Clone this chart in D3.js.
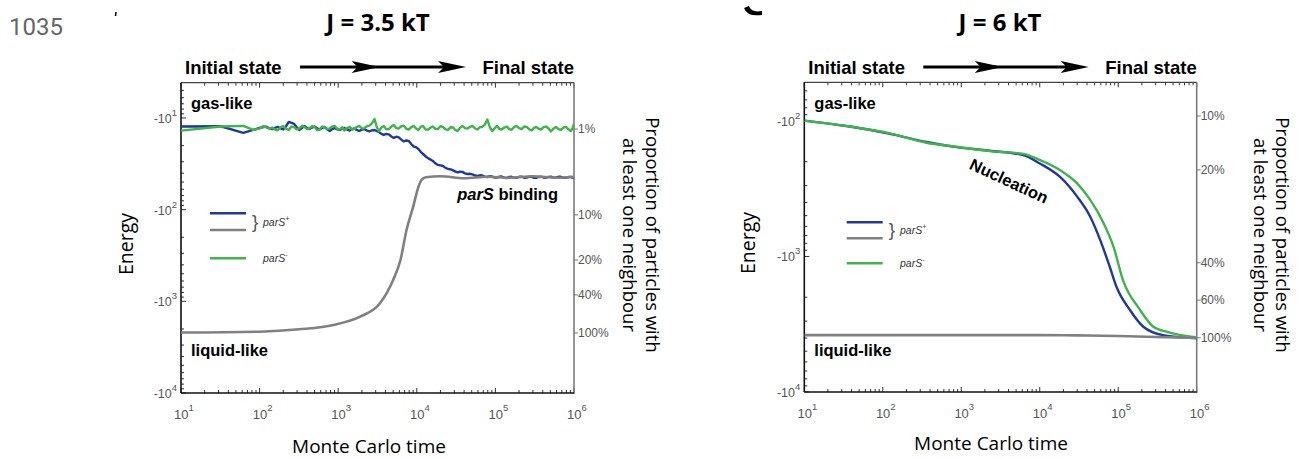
<!DOCTYPE html>
<html><head><meta charset="utf-8">
<script src="https://cdn.jsdelivr.net/npm/d3@7"></script>
<style>body{margin:0;background:#fff;overflow:hidden}</style>
</head><body><svg id="c" width="1301" height="458"></svg>
<script>
// ---------- DATA ----------
const xTicks = [10, 100, 1000, 10000, 100000, 1000000];
const xTickExp = ["1", "2", "3", "4", "5", "6"];

// Left panel (J = 3.5 kT)
const tL = [10,32,62,83,100,110,120,132,145,157,
  170,185,200,217,235,255,275,297,320,345,
  370,400,430,465,500,540,580,625,670,725,
  780,840,900,975,1050,1130,1200,1300,1400,1500,
  1600,1720,1850,2000,2150,2320,2500,2700,2900,3100,
  3300,3550,3800,4100,4400,4750,5100,5500,5900,6350,
  6800,7350,7900,8500,9100,9800,10500,11200,12000,13000,
  14000,15000,16000,17200,18500,20000,21500,23200,25000,27000,
  29000,31000,33000,35500,38000,41000,44000,47500,51000,55000,
  59000,63500,68000,73500,79000,85000,91000,98000,105000,112000,
  120000,130000,140000,150000,160000,172000,185000,200000,215000,232000,
  250000,270000,290000,310000,330000,355000,380000,410000,440000,475000,
  510000,550000,590000,635000,680000,735000,790000,850000,910000,960000,
  1000000];
const greenL = [-13.75,-12.4,-12.2,-13.5,-13.0,-12.3,-12.6,-13.1,-12.7,-13.4,
  -13.6,-12.6,-12.3,-13.1,-13.5,-12.4,-12.6,-13.3,-13.0,-12.2,
  -12.5,-13.2,-13.0,-12.3,-12.5,-13.6,-13.3,-12.4,-12.6,-13.2,
  -13.0,-12.4,-12.2,-13.1,-13.3,-12.6,-13.7,-12.9,-12.5,-13.4,
  -13.2,-12.5,-12.2,-13.0,-12.9,-12.3,-12.1,-11.4,-10.25,-12.6,
  -13.9,-12.7,-12.2,-13.3,-13.2,-12.4,-11.9,-12.9,-13.0,-12.3,
  -12.1,-13.1,-13.35,-12.6,-12.2,-13.0,-13.5,-12.5,-12.2,-13.4,
  -13.35,-12.7,-12.4,-13.1,-13.2,-12.3,-12.5,-13.3,-13.5,-12.6,
  -12.7,-13.5,-13.9,-12.8,-12.2,-12.9,-13.0,-12.5,-12.2,-13.0,
  -13.35,-12.6,-12.5,-11.8,-10.4,-12.6,-13.9,-12.9,-12.2,-13.1,
  -13.35,-12.7,-12.4,-13.2,-13.5,-12.6,-12.2,-12.9,-13.2,-12.4,
  -12.5,-13.3,-13.7,-12.8,-12.5,-13.1,-13.35,-12.6,-12.4,-13.0,
  -14.0,-13.0,-12.5,-13.2,-13.5,-12.7,-12.5,-13.3,-13.86,-12.9,
  -11.6];
const blueL = [-12.4,-12.3,-14.5,-13.5,-12.85,-12.6,-12.4,-12.9,-13.2,-12.8,
  -12.5,-13.0,-13.35,-12.3,-11.05,-11.3,-11.6,-12.6,-13.5,-12.9,
  -12.2,-12.8,-13.2,-12.7,-12.4,-13.0,-13.35,-12.8,-12.5,-13.3,
  -13.86,-13.2,-12.85,-13.3,-13.5,-13.0,-12.85,-13.4,-13.7,-13.2,
  -13.0,-13.5,-13.86,-13.4,-13.2,-13.7,-14.0,-13.6,-13.5,-13.9,
  -14.2,-14.9,-15.3,-14.9,-15.1,-15.9,-16.5,-16.0,-16.3,-17.2,
  -18.0,-17.6,-17.8,-19.2,-20.4,-20.9,-21.8,-23.4,-24.7,-26.3,
  -27.6,-28.4,-29.4,-31.2,-32.5,-32.9,-33.4,-35.0,-36.0,-36.4,
  -37.3,-38.5,-39.2,-38.6,-38.7,-40.2,-40.8,-40.6,-41.3,-42.4,
  -42.9,-42.2,-42.4,-43.6,-44.0,-43.2,-43.5,-44.6,-44.6,-43.7,
  -43.5,-44.8,-45.1,-43.9,-43.8,-44.7,-44.9,-43.8,-43.6,-44.8,
  -44.7,-43.7,-43.9,-45.0,-45.0,-44.0,-43.7,-44.6,-44.8,-43.9,
  -43.6,-44.7,-44.5,-43.8,-43.8,-44.9,-45.0,-44.1,-44.0,-44.6,
  -44.3];
const tGrayL = [10,100,320,870,1900,3400,5000,6200,7400,9000,10500,11500,13000,20000,40000,80000,150000,300000,600000,1000000];
const pctGrayL = [99,97,91.5,82.4,67.5,48.9,29.7,20,12.6,8.0,4.7,3.9,3.65,3.55,3.75,3.6,3.7,3.55,3.7,3.6];
const yTicksL = [-10, -100, -1000, -10000];
const yTickExpL = ["1", "2", "3", "4"];
const pctTicksL = [1, 10, 20, 40, 100];
const pctTickEnergyL = [-13.2, -114, -354, -851, -2213];

// Right panel (J = 6 kT)
const tGreenR = [10,38,120,360,870,2300,6200,10000,18000,30000,44000,65000,87000,115000,190000,280000,420000,1000000];
const greenR = [-99.5,-110,-123,-145,-155,-167,-175,-194,-230,-289,-383,-567,-847,-1493,-2483,-3300,-3597,-3954];
const tBlueR = [10,38,120,360,870,2300,6200,10000,18000,30000,44000,59000,78000,95000,141000,209000,372000,1000000];
const blueR = [-99.5,-110,-124,-143,-156,-166,-179,-206,-258,-362,-509,-757,-1191,-1673,-2483,-3300,-3805,-4018];
const tGrayR = [10,1000,10000,30000,100000,300000,1000000];
const pctGrayR = [96.4,96.4,96.5,96.8,97.6,99,100];
const yTicksR = [-100, -1000, -10000];
const yTickExpR = ["2", "3", "4"];
const pctTicksR = [10, 20, 40, 60, 100];
const pctTickEnergyR = [-92, -230, -1112, -2099, -3981];

// ---------- STYLE / LAYOUT ----------
const C = {blue:"#1f3a9c", green:"#3db54a", gray:"#808080", tick:"#555"};
const HEL = "'Liberation Sans', Arial, Helvetica, sans-serif";
const MYR = "'Open Sans', 'Noto Sans', sans-serif";

const svg = d3.select("#c");
svg.append("text").attr("x", 9).attr("y", 35).text("1035")
  .attr("font-family", "Roboto, sans-serif").attr("font-size", 24).attr("fill", "#666");

const panels = [
  {l:181, r:574, t:82.7, b:393, yTop:-4.12, title:"J = 3.5 kT", titleX:378,
   yTicks:yTicksL, yExp:yTickExpL, pct:pctTicksL, pctE:pctTickEnergyL,
   series:[{t:tL, e:blueL, c:C.blue},{t:tL, e:greenL, c:C.green}],
   gray:{t:tGrayL, p:pctGrayL}, labelX:369, labelY:453, energyX:133, energyY:244,
   propX:[646, 623], legend:{x:210, y1:213.3, y2:230, y3:258.3, tx:263},
   extra:"parS"},
  {l:804.3, r:1196.7, t:82.3, b:392, yTop:-51.9, title:"J = 6 kT", titleX:1000,
   yTicks:yTicksR, yExp:yTickExpR, pct:pctTicksR, pctE:pctTickEnergyR,
   series:[{t:tBlueR, e:blueR, c:C.blue},{t:tGreenR, e:greenR, c:C.green}],
   gray:{t:tGrayR, p:pctGrayR}, labelX:991, labelY:450, energyX:755, energyY:243,
   propX:[1276, 1254], legend:{x:846.7, y1:222.3, y2:238.3, y3:263.3, tx:900},
   extra:"nuc"}
];

function drawPanel(P){
  const g = svg.append("g");
  const x = d3.scaleLog().domain([10, 1e6]).range([P.l, P.r]);
  const y = d3.scaleLog().domain([P.yTop, -1e4]).range([P.t, P.b]);
  const pctS = d3.scaleLinear().domain(P.pct.map(Math.log10)).range(P.pctE.map(v => Math.log10(-v)));
  const pctEnergy = p => -Math.pow(10, pctS(Math.log10(p)));

  // title
  g.append("text").attr("x", P.titleX).attr("y", 31).attr("text-anchor", "middle")
    .attr("font-family", MYR).attr("font-weight", 700).attr("font-size", 24).text(P.title);
  // Initial -> Final
  g.append("text").attr("x", P.l + 4).attr("y", 74).attr("font-family", HEL).attr("font-weight", 700)
    .attr("font-size", 18.5).text("Initial state");
  g.append("text").attr("x", P.r).attr("y", 74).attr("text-anchor", "end").attr("font-family", HEL)
    .attr("font-weight", 700).attr("font-size", 18.5).text("Final state");
  const a0 = P.l + 119, a1 = P.r - 108, am = a0 + (a1 - a0) * 0.48, ay = 67;
  g.append("line").attr("x1", a0).attr("x2", a1 - 10).attr("y1", ay).attr("y2", ay)
    .attr("stroke", "#000").attr("stroke-width", 3);
  [am, a1].forEach(tip => {
    g.append("path").attr("d", `M${tip},${ay} L${tip-28},${ay-6} L${tip-22},${ay} L${tip-28},${ay+6} Z`).attr("fill", "#000");
  });

  // minor/major ticks
  const xMinor = [];
  for (let n = 1; n < 6; n++) for (let k = 2; k <= 9; k++) xMinor.push(k * Math.pow(10, n));
  const yMinor = [];
  for (let n = 0; n < 4; n++) for (let k = 2; k <= 9; k++) {
    const v = -k * Math.pow(10, n);
    if (v < P.yTop && v > -1e4) yMinor.push(v);
  }
  const tk = g.append("g").attr("stroke", "#333").attr("stroke-width", 1);
  xMinor.forEach(v => {
    tk.append("line").attr("x1", x(v)).attr("x2", x(v)).attr("y1", P.b).attr("y2", P.b - 3);
    tk.append("line").attr("x1", x(v)).attr("x2", x(v)).attr("y1", P.t).attr("y2", P.t + 3);
  });
  xTicks.forEach(v => {
    tk.append("line").attr("x1", x(v)).attr("x2", x(v)).attr("y1", P.b).attr("y2", P.b - 5);
    tk.append("line").attr("x1", x(v)).attr("x2", x(v)).attr("y1", P.t).attr("y2", P.t + 5);
  });
  yMinor.forEach(v => tk.append("line").attr("x1", P.l).attr("x2", P.l + 3).attr("y1", y(v)).attr("y2", y(v)));
  P.yTicks.forEach(v => tk.append("line").attr("x1", P.l).attr("x2", P.l + 5).attr("y1", y(v)).attr("y2", y(v)));

  // right percentage axis
  P.pct.forEach(p => {
    const yy = y(pctEnergy(p));
    g.append("line").attr("x1", P.r).attr("x2", P.r + 4).attr("y1", yy).attr("y2", yy)
      .attr("stroke", "#777").attr("stroke-width", 1);
    g.append("text").attr("x", P.r + 4).attr("y", yy).attr("dy", "0.35em").attr("font-family", HEL)
      .attr("font-size", 12).attr("fill", C.tick).text(p + "%");
  });

  // frame
  g.append("line").attr("x1", P.l).attr("x2", P.r).attr("y1", P.t).attr("y2", P.t).attr("stroke", "#444").attr("stroke-width", 1.2);
  g.append("line").attr("x1", P.r).attr("x2", P.r).attr("y1", P.t).attr("y2", P.b + 1).attr("stroke", "#7a7a7a").attr("stroke-width", 1.6);
  g.append("line").attr("x1", P.l).attr("x2", P.r).attr("y1", P.b).attr("y2", P.b).attr("stroke", "#111").attr("stroke-width", 1.6);
  g.append("line").attr("x1", P.l).attr("x2", P.l).attr("y1", P.t).attr("y2", P.b).attr("stroke", "#111").attr("stroke-width", 1.6);

  // tick labels
  xTicks.forEach((v, i) => {
    const t = g.append("text").attr("x", x(v) + 3).attr("y", P.b + 26).attr("text-anchor", "middle")
      .attr("font-family", HEL).attr("font-size", 13).attr("fill", C.tick);
    t.append("tspan").text("10");
    t.append("tspan").attr("dy", -8).attr("font-size", 9.5).text(xTickExp[i]);
  });
  P.yTicks.forEach((v, i) => {
    const t = g.append("text").attr("x", P.l - 4).attr("y", y(v) + 5).attr("text-anchor", "end")
      .attr("font-family", HEL).attr("font-size", 12.5).attr("fill", C.tick);
    t.append("tspan").text("-10");
    t.append("tspan").attr("dy", -7).attr("font-size", 9.5).text(P.yExp[i]);
  });

  // lines
  const line = d3.line().x(d => x(d[0])).y(d => y(d[1]));
  const smooth = d3.line().x(d => x(d[0])).y(d => y(d[1])).curve(d3.curveMonotoneX);
  const clipId = "clip" + Math.round(P.l);
  svg.append("clipPath").attr("id", clipId).append("rect")
    .attr("x", P.l).attr("y", P.t).attr("width", P.r - P.l).attr("height", P.b - P.t);
  const lg = g.append("g").attr("clip-path", `url(#${clipId})`);
  P.series.forEach(s => {
    const d = s.t.map((tt, i) => [tt, s.e[i]]);
    lg.append("path").attr("d", (P.extra === "nuc" ? smooth : line)(d)).attr("fill", "none")
      .attr("stroke", s.c).attr("stroke-width", 2.4).attr("stroke-linejoin", "round");
  });
  const gd = P.gray.t.map((tt, i) => [tt, pctEnergy(P.gray.p[i])]);
  lg.append("path").attr("d", smooth(gd)).attr("fill", "none").attr("stroke", C.gray).attr("stroke-width", 2.6);

  // annotations
  g.append("text").attr("x", P.l + 10).attr("y", 108.5).attr("font-family", HEL).attr("font-weight", 700)
    .attr("font-size", 16.5).text("gas-like");
  g.append("text").attr("x", P.l + 10).attr("y", 355.5).attr("font-family", HEL).attr("font-weight", 700)
    .attr("font-size", 16.5).text("liquid-like");
  if (P.extra === "parS") {
    const t = g.append("text").attr("x", P.r - 16).attr("y", 200).attr("text-anchor", "end")
      .attr("font-family", HEL).attr("font-weight", 700).attr("font-size", 16.5);
    t.append("tspan").attr("font-style", "italic").text("parS");
    t.append("tspan").text(" binding");
  } else {
    g.append("text").attr("transform", "translate(1009,181) rotate(25)").attr("text-anchor", "middle")
      .attr("dy", "0.35em").attr("font-family", HEL).attr("font-weight", 700).attr("font-size", 16.5).text("Nucleation");
  }

  // legend
  const L = P.legend;
  [[L.y1, C.blue], [L.y2, C.gray], [L.y3, C.green]].forEach(([yy, c]) => {
    g.append("line").attr("x1", L.x).attr("x2", L.x + 36).attr("y1", yy).attr("y2", yy)
      .attr("stroke", c).attr("stroke-width", 2.6);
  });
  g.append("text").attr("x", L.x + 42).attr("y", (L.y1 + L.y2) / 2 + 6).attr("font-family", HEL)
    .attr("font-size", 19).attr("font-weight", 300).attr("fill", "#555").text("}");
  const t1 = g.append("text").attr("x", L.tx).attr("y", (L.y1 + L.y2) / 2 + 4).attr("font-family", HEL)
    .attr("font-style", "italic").attr("font-size", 10.5).attr("fill", "#333");
  t1.append("tspan").text("parS");
  t1.append("tspan").attr("dy", -5).attr("font-size", 7).text("+");
  const t2 = g.append("text").attr("x", L.tx).attr("y", L.y3 + 4).attr("font-family", HEL)
    .attr("font-style", "italic").attr("font-size", 10.5).attr("fill", "#333");
  t2.append("tspan").text("parS");
  t2.append("tspan").attr("dy", -5).attr("font-size", 7).text("-");

  // axis titles
  g.append("text").attr("transform", `translate(${P.energyX},${P.energyY}) rotate(-90)`).attr("text-anchor", "middle")
    .attr("font-family", MYR).attr("font-size", 19.5).text("Energy");
  g.append("text").attr("x", P.labelX).attr("y", P.labelY).attr("text-anchor", "middle")
    .attr("font-family", MYR).attr("font-size", 19).text("Monte Carlo time");
  ["Proportion of particles with", "at least one neighbour"].forEach((s, i) => {
    g.append("text").attr("transform", `translate(${P.propX[i]},235) rotate(90)`).attr("text-anchor", "middle")
      .attr("font-family", MYR).attr("font-size", 18.5).text(s);
  });
}
panels.forEach(drawPanel);

// fragments of cropped panel letters at the top edge (decoration)
svg.append("path").attr("d", "M744,8 Q747,17 762,15 L762,11 Q751,13 749,6 Z").attr("fill", "#000");
svg.append("path").attr("d", "M116,12 L115.5,16").attr("fill", "none").attr("stroke", "#000").attr("stroke-width", 1.5);
</script></body></html>
